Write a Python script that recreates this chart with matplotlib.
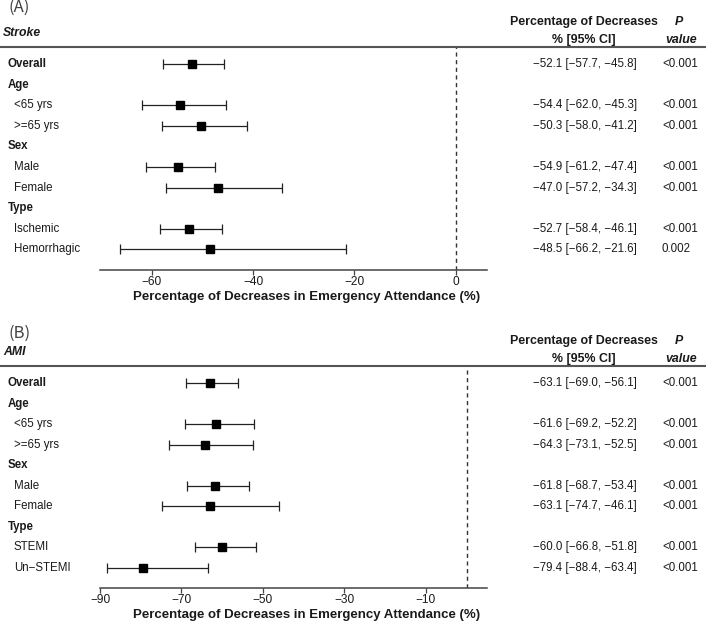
import matplotlib
matplotlib.use("Agg")
import matplotlib.pyplot as plt
import matplotlib.transforms as mtransforms
from matplotlib.lines import Line2D
import numpy as np

plt.rcParams['font.family'] = ['Liberation Sans', 'DejaVu Sans']

# ---- data ----
stroke_labels = ["Overall", "Age", "<65 yrs", ">=65 yrs", "Sex", "Male", "Female",
                 "Type", "Ischemic", "Hemorrhagic"]
stroke_est = [-52.1, np.nan, -54.4, -50.3, np.nan, -54.9, -47.0, np.nan, -52.7, -48.5]
stroke_lo = [-57.7, np.nan, -62.0, -58.0, np.nan, -61.2, -57.2, np.nan, -58.4, -66.2]
stroke_hi = [-45.8, np.nan, -45.3, -41.2, np.nan, -47.4, -34.3, np.nan, -46.1, -21.6]
stroke_p = ["<0.001", "", "<0.001", "<0.001", "", "<0.001", "<0.001", "", "<0.001", "0.002"]
stroke_ticks = [-60, -40, -20, 0]

ami_labels = ["Overall", "Age", "<65 yrs", ">=65 yrs", "Sex", "Male", "Female",
              "Type", "STEMI", "Un\u2212STEMI"]
ami_est = [-63.1, np.nan, -61.6, -64.3, np.nan, -61.8, -63.1, np.nan, -60.0, -79.4]
ami_lo = [-69.0, np.nan, -69.2, -73.1, np.nan, -68.7, -74.7, np.nan, -66.8, -88.4]
ami_hi = [-56.1, np.nan, -52.2, -52.5, np.nan, -53.4, -46.1, np.nan, -51.8, -63.4]
ami_p = ["<0.001", "", "<0.001", "<0.001", "", "<0.001", "<0.001", "", "<0.001", "<0.001"]
ami_ticks = [-90, -70, -50, -30, -10]

W, H = 706, 624
fig = plt.figure(figsize=(W / 100, H / 100), dpi=100)
FS = 8.3
TXT = '#1a1a1a'


def fx(x):
    return x / W


def fy(y):
    return 1 - y / H


def fmt(v):
    return f"{v:.1f}".replace("-", "\u2212")


def panel(tag, title, labels, est, lo, hi, pvals, ticks, xlim, top, bottom, tag_y):
    ax = fig.add_axes([fx(100), fy(bottom), fx(487) - fx(100), fy(top) - fy(bottom)])
    n = len(labels)
    ys = -np.arange(n)
    est = np.array(est)
    lo = np.array(lo)
    hi = np.array(hi)
    ok = ~np.isnan(est)
    ax.errorbar(est[ok], ys[ok], xerr=[est[ok] - lo[ok], hi[ok] - est[ok]],
                fmt='s', color='black', ecolor='#222222', ms=5.2, capsize=3.6,
                elinewidth=0.9, capthick=0.9)
    ax.axvline(0, color='#333333', lw=1, ls=(0, (3, 2.5)))
    ax.set_xlim(*xlim)
    ax.set_ylim(-(n - 1) - 1.0, 0.83)
    for s in ['top', 'left', 'right']:
        ax.spines[s].set_visible(False)
    ax.spines['bottom'].set_color('#444444')
    ax.spines['bottom'].set_linewidth(1.1)
    ax.set_yticks([])
    ax.set_xticks(ticks)
    ax.set_xticklabels([fmt(t).replace(".0", "") for t in ticks], fontsize=8.6, color=TXT)
    ax.tick_params(axis='x', length=3.5, width=0.9, pad=1.0, color='#444444')

    tr = mtransforms.blended_transform_factory(fig.transFigure, ax.transData)
    for i, lab in enumerate(labels):
        if np.isnan(est[i]) or lab == "Overall":
            ax.text(fx(8), ys[i], lab, transform=tr, ha='left', va='center',
                    fontsize=FS, fontweight='bold', color=TXT)
        else:
            ax.text(fx(14), ys[i], lab, transform=tr, ha='left', va='center',
                    fontsize=FS, color=TXT)
        if not np.isnan(est[i]):
            ci = f"{fmt(est[i])} [{fmt(lo[i])}, {fmt(hi[i])}]"
            ax.text(fx(637), ys[i], ci, transform=tr, ha='right', va='center',
                    fontsize=FS, color=TXT)
            ax.text(fx(662), ys[i], pvals[i], transform=tr, ha='left', va='center',
                    fontsize=FS, color=TXT)

    # header
    fig.add_artist(Line2D([0, 1], [fy(top), fy(top)], transform=fig.transFigure,
                          color='#555555', lw=1.5))
    fig.text(fx(3), fy(top - 14), title, ha='left', va='center', fontsize=FS + 0.5,
             fontweight='bold', fontstyle='italic', color=TXT)
    fig.text(fx(9), fy(tag_y), tag, ha='left', va='center', fontsize=12,
             color='#444444', family=['Noto Sans CJK SC', 'DejaVu Sans'])
    fig.text(fx(583.5), fy(top - 25), "Percentage of Decreases", ha='center', va='center',
             fontsize=8.9, fontweight='bold', color=TXT)
    fig.text(fx(583.5), fy(top - 7), "% [95% CI]", ha='center', va='center',
             fontsize=8.9, fontweight='bold', color=TXT)
    fig.text(fx(679), fy(top - 25), "P", ha='center', va='center',
             fontsize=8.9, fontweight='bold', fontstyle='italic', color=TXT)
    fig.text(fx(681), fy(top - 7), "value", ha='center', va='center',
             fontsize=8.9, fontweight='bold', fontstyle='italic', color=TXT)
    fig.text(fx(307), fy(bottom + 27), "Percentage of Decreases in Emergency Attendance (%)",
             ha='center', va='center', fontsize=9.5, fontweight='bold', color=TXT)
    return ax


panel("(A)", "Stroke", stroke_labels, stroke_est, stroke_lo, stroke_hi, stroke_p,
      stroke_ticks, (-70.2, 6.2), 47, 270, 7)
panel("(B)", "AMI", ami_labels, ami_est, ami_lo, ami_hi, ami_p,
      ami_ticks, (-90, 5.0), 366, 588, 333)

fig.savefig("out.png", dpi=100, facecolor='white')
